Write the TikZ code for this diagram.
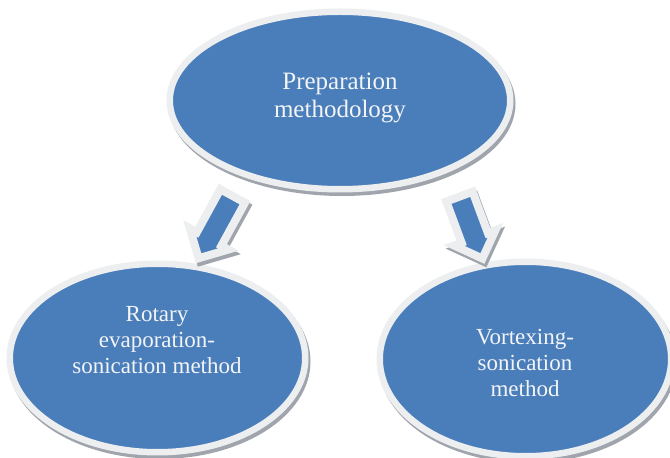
\documentclass[tikz,border=0pt]{standalone}
\usepackage{fontspec}
\setmainfont{Liberation Serif}
\usetikzlibrary{shapes.geometric,shapes.arrows}

\definecolor{bubbleblue}{HTML}{4A7EBB}
\definecolor{rimgray}{HTML}{EDEEF0}
\definecolor{shadowgray}{HTML}{A0A5AD}
\definecolor{labelwhite}{HTML}{F3F4F6}

\tikzset{
  softshadow/.style={preaction={draw=shadowgray, fill=shadowgray,
      transform canvas={shift={(1pt,-1.75pt)}}}},
  bubble/.style={ellipse, fill=bubbleblue, draw=rimgray, line width=3.25pt,
    inner sep=0pt, softshadow},
  bubbletext/.style={text=labelwhite, align=center, inner sep=0pt},
  flowarrow/.style={single arrow, fill=bubbleblue, draw=rimgray, line width=4pt,
    line join=miter, inner sep=5pt, single arrow head extend=4pt, softshadow}
}

\begin{document}
\begin{tikzpicture}[x=0.5pt, y=-0.5pt]
  \useasboundingbox[fill=white] (0,0) rectangle (670,458);

  % Draw the three ellipses.
  \node[bubble, minimum width=170.25pt, minimum height=88.75pt] (prep) at (340,100.5) {};
  \node[bubble, minimum width=147.75pt, minimum height=94.25pt] (rotary) at (157.5,358) {};
  \node[bubble, minimum width=145.75pt, minimum height=97.25pt] (vortex) at (525.5,359) {};

  % Draw the labels.
  \node[bubbletext, font=\fontsize{12.5}{14}\selectfont] (preplabel) at (340,98)
    {Preparation\\methodology};
  \node[bubbletext, font=\fontsize{11.5}{13}\selectfont] (rotarylabel) at (157,340)
    {Rotary\\evaporation-\\sonication method};
  \node[bubbletext, font=\fontsize{11.5}{13}\selectfont] (vortexlabel) at (525,363)
    {Vortexing-\\sonication\\method};

  % Draw the block arrows.
  \coordinate (ltail) at (236,190);
  \coordinate (ltip) at (202,252);
  \coordinate (rtail) at (457,190);
  \coordinate (rtip) at (480,252);
  \foreach \tail/\tip/\len/\name in {ltail/ltip/35.5pt/larrow, rtail/rtip/33pt/rarrow} {
    \path (\tail) -- (\tip)
      node[flowarrow, midway, sloped, allow upside down, minimum height=\len] (\name) {};
  };
\end{tikzpicture}
\end{document}
